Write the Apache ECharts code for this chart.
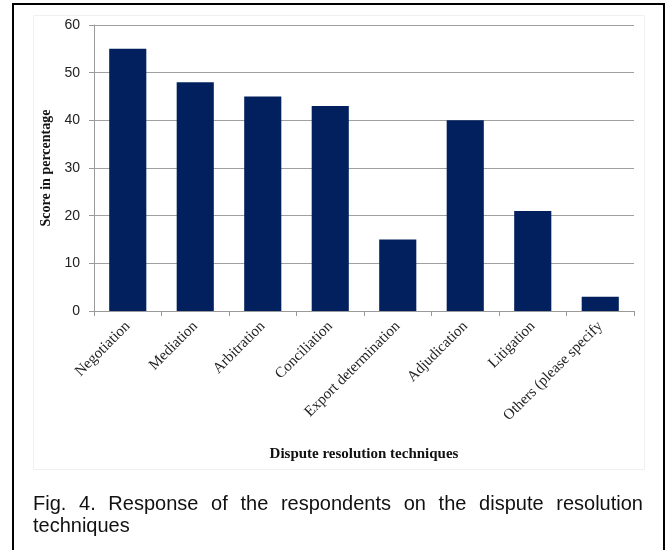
<!DOCTYPE html>
<html>
<head>
<meta charset="utf-8">
<script src="https://cdn.jsdelivr.net/npm/echarts@6/dist/echarts.min.js"></script>
<style>
html,body{margin:0;padding:0;background:#fff;}
#wrap{position:relative;width:665px;height:550px;overflow:hidden;}
#chart{position:absolute;left:0;top:0;width:665px;height:550px;}
#caption{position:absolute;left:33px;top:492px;width:610px;font-family:"Liberation Sans",Arial,sans-serif;font-size:20px;line-height:22px;color:#111;text-align:justify;}
</style>
</head>
<body>
<div id="wrap">
<div id="chart"></div>
<div id="caption">Fig. 4. Response of the respondents on the dispute resolution techniques</div>
</div>
<script>
const categories = ["Negotiation", "Mediation", "Arbitration", "Conciliation", "Export determination", "Adjudication", "Litigation", "Others (please specify"];
const scores = [55, 48, 45, 43, 15, 40, 21, 3];
const yTicks = { min: 0, max: 60, interval: 10 };
const xTitle = "Dispute resolution techniques";
const yTitle = "Score in percentage";

const chart = echarts.init(document.getElementById('chart'), null, { renderer: 'canvas' });
chart.setOption({
  animation: false,
  backgroundColor: '#fff',
  graphic: [
    { type: 'rect', shape: { x: 13, y: 4, width: 651, height: 560 }, style: { fill: 'none', stroke: '#000', lineWidth: 2 }, z: 0 },
    { type: 'rect', shape: { x: 33.5, y: 15.5, width: 611, height: 454 }, style: { fill: 'none', stroke: '#f0f0f0', lineWidth: 1 }, z: 0 }
  ],
  grid: { left: 94, right: 31, top: 25, bottom: 239, containLabel: false },
  xAxis: {
    type: 'category',
    data: categories,
    name: xTitle,
    nameLocation: 'middle',
    nameGap: 136,
    nameTextStyle: { fontFamily: 'Liberation Serif', fontWeight: 'bold', fontSize: 15, color: '#111' },
    axisLine: { lineStyle: { color: '#9a9a9a', width: 1 } },
    axisTick: { show: true, length: 5, lineStyle: { color: '#9a9a9a' } },
    axisLabel: { rotate: 45, margin: 13, fontFamily: 'Liberation Serif', fontSize: 15, color: '#222', interval: 0 }
  },
  yAxis: {
    type: 'value',
    min: yTicks.min, max: yTicks.max, interval: yTicks.interval,
    name: yTitle,
    nameLocation: 'middle',
    nameGap: 40,
    nameRotate: 90,
    nameTextStyle: { fontFamily: 'Liberation Serif', fontWeight: 'bold', fontSize: 14, color: '#111' },
    axisLine: { show: true, lineStyle: { color: '#9a9a9a', width: 1 } },
    axisTick: { show: true, length: 5, lineStyle: { color: '#9a9a9a' } },
    axisLabel: { margin: 14, fontFamily: 'Liberation Sans', fontSize: 14, color: '#222' },
    splitLine: { show: true, lineStyle: { color: '#a0a0a0', width: 1 } }
  },
  series: [{
    type: 'bar',
    data: scores,
    barCategoryGap: '45%',
    itemStyle: { color: '#03205e' }
  }]
});
</script>
</body>
</html>
